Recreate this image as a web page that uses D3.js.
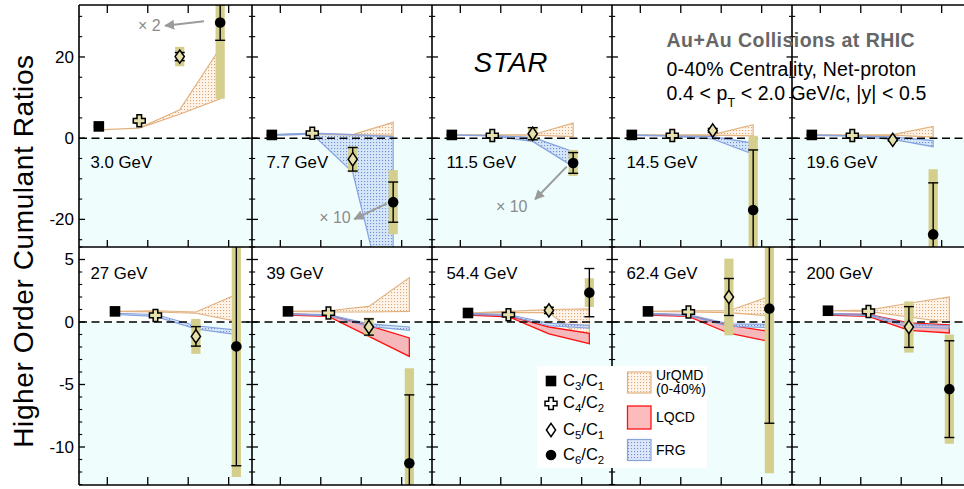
<!DOCTYPE html>
<html>
<head>
<meta charset="utf-8">
<script src="https://cdn.jsdelivr.net/npm/d3@7"></script>
<style>
  html, body { margin: 0; padding: 0; background: #fff; }
  svg { display: block; font-family: "Liberation Sans", Arial, Helvetica, sans-serif; }
</style>
</head>
<body>
<svg id="chart" width="964" height="489"></svg>
<script>
// ---- data: one panel per collision energy ----
const energyLabels = ["3.0 GeV", "7.7 GeV", "11.5 GeV", "14.5 GeV", "19.6 GeV",
                      "27 GeV", "39 GeV", "54.4 GeV", "62.4 GeV", "200 GeV"];

// measured net-proton cumulant ratios (C6/C2 at 3.0 GeV shown x2, at 7.7 and 11.5 GeV shown x10)
const c31     = [2.9, 0.8, 0.8, 0.8, 0.8, 0.85, 0.85, 0.72, 0.85, 0.9];
const c31Stat = [0.2, 0.1, 0.1, 0.1, 0.1, 0.05, 0.05, 0.05, 0.05, 0.05];
const c31Sys  = [0.3, 0.2, 0.2, 0.2, 0.2, 0.08, 0.08, 0.08, 0.08, 0.08];

const c42     = [4.3, 1.2, 0.65, 0.65, 0.65, 0.53, 0.72, 0.58, 0.8, 0.85];
const c42Stat = [0.5, 0.3, 0.2, 0.2, 0.2, 0.1, 0.1, 0.1, 0.1, 0.1];
const c42Sys  = [0.9, 0.4, 0.3, 0.3, 0.3, 0.15, 0.15, 0.15, 0.15, 0.15];

const c51     = [20.1, -5.2, 1.1, 1.9, -0.4, -1.15, -0.4, 0.93, 2.0, -0.4];
const c51Stat = [1.0, 2.9, 1.5, 0.5, 0.3, 0.78, 0.65, 0.25, 1.48, 1.63];
const c51Sys  = [2.4, 3.2, 1.6, 0.6, 0.4, 1.4, 0.75, 0.35, 3.07, 2.05];

const c62     = [28.5, -15.75, -6.1, -17.7, -23.7, -1.95, -11.3, 2.35, 1.07, -5.37];
const c62Stat = [4.4, 4.95, 2.55, 14.8, 12.7, 9.55, 5.47, 1.93, 9.17, 3.87];
const c62Sys  = [18.8, 7.9, 3.2, 18.3, 16.05, 10.45, 7.6, 1.15, 13.17, 4.37];

// model bands: lower / upper edge at C3/C1, C4/C2, C5/C1, C6/C2
const urqmdHi = [
  [2.05, 2.5, 7.0, 22.2], [0.85, 1.2, 0.9, 3.9], [0.85, 0.85, 0.85, 3.7],
  [0.85, 0.85, 0.9, 3.3], [0.85, 0.85, 0.9, 2.9], [0.85, 0.9, 0.8, 2.2],
  [0.85, 0.9, 1.25, 3.55], [0.72, 0.85, 1.0, 1.05], [0.85, 0.9, 0.9, 2.05],
  [0.9, 0.95, 1.5, 2.0]];
const urqmdLo = [
  [2.05, 2.5, 5.9, 9.7], [0.75, 1.0, 0.75, 0.75], [0.75, 0.7, 0.75, 0.4],
  [0.75, 0.7, 0.75, 0.55], [0.75, 0.7, 0.75, 0.25], [0.85, 0.8, 0.7, 0.05],
  [0.85, 0.8, 0.8, 0.85], [0.72, 0.75, 0.75, -1.75], [0.85, 0.8, 0.75, 0.5],
  [0.9, 0.85, 0.4, -0.05]];

const lqcdHi = [null, null, null, null, null, null,
  [0.65, 0.55, -0.3, -1.28], [0.65, 0.5, -0.4, -0.9],
  [0.65, 0.55, -0.25, -0.75], [0.65, 0.6, -0.08, -0.22]];
const lqcdLo = [null, null, null, null, null, null,
  [0.55, 0.45, -1.15, -2.75], [0.55, 0.42, -0.95, -1.74],
  [0.55, 0.45, -0.9, -1.55], [0.55, 0.45, -0.67, -0.88]];

const frgHi = [null,
  [0.9, 1.25, 0.9, 0.4], [0.8, 0.65, 0.2, -3.3], [0.8, 0.6, 0.4, -1.2],
  [0.8, 0.6, 0.3, -0.6], [0.7, 0.6, -0.3, -0.65], [0.65, 0.6, -0.15, -0.4],
  [0.7, 0.6, -0.1, -0.27], [0.7, 0.6, -0.15, -0.2], [0.7, 0.6, -0.15, -0.3]];
const frgLo = [null,
  [0.7, 1.0, -8.4, -49], [0.75, 0.55, -0.8, -7.0], [0.7, 0.5, -0.2, -3.9],
  [0.7, 0.5, -0.3, -2.1], [0.6, 0.45, -0.55, -1.0], [0.6, 0.5, -0.35, -0.67],
  [0.6, 0.5, -0.3, -0.48], [0.6, 0.5, -0.35, -0.45], [0.6, 0.5, -0.4, -0.5]];

// axis ticks
const topMajor = [-20, 0, 20];
const topMinor = [-25, -15, -10, -5, 5, 10, 15, 25, 30];
const botMajor = [-10, -5, 0, 5];
const botMinor = d3.range(-13, 7).filter(v => v % 5 !== 0);

// scale-factor notes (panel, text, arrow tail, arrow tip, text anchor) in data units
const scaleNotes = [
  { panel: 0, text: "\u00d7 2",  tail: [3.39, 28.8],  tip: [2.43, 27.7],  at: [1.76, 26.4] },
  { panel: 1, text: "\u00d7 10", tail: [3.63, -16.1], tip: [2.83, -19.9], at: [1.96, -20.9] },
  { panel: 2, text: "\u00d7 10", tail: [3.63, -7.0],  tip: [2.85, -15.05], at: [1.88, -18.2] }
];

// ---- layout ----
const colEdges = [79, 252, 432, 612, 792, 972];
const rowEdges = [5, 247, 485];
const rowDomains = [[-26.8, 32.8], [-13.04, 6.0]];
const markerShift = [-0.21, 0.19];
const cyan = "#effdfd", olive = "#d5cf8e";

const svg = d3.select("#chart");
const defs = svg.append("defs");

// dotted fills for the model bands
const pU = defs.append("pattern").attr("id", "dotU").attr("width", 3).attr("height", 3)
  .attr("patternUnits", "userSpaceOnUse");
pU.append("rect").attr("width", 3).attr("height", 3).attr("fill", "#fff4ea");
pU.append("rect").attr("x", 1).attr("y", 1).attr("width", 1.1).attr("height", 1.1).attr("fill", "#dea977");

const pF = defs.append("pattern").attr("id", "dotF").attr("width", 3).attr("height", 3)
  .attr("patternUnits", "userSpaceOnUse");
pF.append("rect").attr("width", 3).attr("height", 3).attr("fill", "rgba(160,185,238,0.35)");
pF.append("rect").attr("x", 1).attr("y", 1).attr("width", 1.1).attr("height", 1.1).attr("fill", "#6f8fd6");

defs.append("marker").attr("id", "arrowHead").attr("viewBox", "0 0 10 10")
  .attr("refX", 9).attr("refY", 5).attr("markerWidth", 5).attr("markerHeight", 5)
  .attr("markerUnits", "strokeWidth").attr("orient", "auto")
  .append("path").attr("d", "M0,0 L10,5 L0,10 Z").attr("fill", "#9b9b9b");

const yScales = rowDomains.map((dom, r) =>
  d3.scaleLinear().domain(dom).range([rowEdges[r + 1], rowEdges[r]]));
const xScales = colEdges.slice(0, 5).map(x0 =>
  d3.scaleLinear().domain([0.3, 4.75]).range([x0, x0 + 180]));

// marker shapes
const crossPath = (a, w) => `M${-w},${-a}H${w}V${-w}H${a}V${w}H${w}V${a}H${-w}V${w}H${-a}V${-w}H${-w}Z`;
const diamondPath = (hw, hh) => `M0,${-hh}L${hw},0L0,${hh}L${-hw},0Z`;
function drawMarker(g, kind, x, y, fill) {
  if (kind === 0) {
    g.append("rect").attr("x", x - 5.3).attr("y", y - 5.3).attr("width", 10.6).attr("height", 10.6)
      .attr("fill", "#000");
  } else if (kind === 1) {
    g.append("path").attr("d", crossPath(6, 2.3)).attr("transform", `translate(${x},${y})`)
      .attr("fill", fill).attr("stroke", "#000").attr("stroke-width", 1.5);
  } else if (kind === 2) {
    g.append("path").attr("d", diamondPath(4.6, 6.6)).attr("transform", `translate(${x},${y})`)
      .attr("fill", fill).attr("stroke", "#000").attr("stroke-width", 1.5);
  } else {
    g.append("circle").attr("cx", x).attr("cy", y).attr("r", 5.3).attr("fill", "#000");
  }
}

// background: light cyan below zero in each row
yScales.forEach((y, r) => {
  svg.append("rect").attr("x", colEdges[0]).attr("y", y(0))
    .attr("width", 964 - colEdges[0]).attr("height", rowEdges[r + 1] - y(0)).attr("fill", cyan);
});

const series = [
  { v: c31, stat: c31Stat, sys: c31Sys },
  { v: c42, stat: c42Stat, sys: c42Sys },
  { v: c51, stat: c51Stat, sys: c51Sys },
  { v: c62, stat: c62Stat, sys: c62Sys }
];

energyLabels.forEach((label, p) => {
  const r = p < 5 ? 0 : 1, c = p % 5;
  const x = xScales[c], y = yScales[r];
  const xs = i => x(i + 1 + markerShift[r]);
  const clipId = "clip" + p;
  defs.append("clipPath").attr("id", clipId).append("rect")
    .attr("x", colEdges[c]).attr("y", rowEdges[r])
    .attr("width", colEdges[c + 1] - colEdges[c]).attr("height", rowEdges[r + 1] - rowEdges[r]);
  const g = svg.append("g").attr("clip-path", `url(#${clipId})`);

  const area = d3.area().x((d, i) => xs(i)).y0(d => y(d[0])).y1(d => y(d[1]));
  const band = (lo, hi, fill, stroke, sw) => {
    if (!lo) return;
    g.append("path").datum(lo.map((v, i) => [v, hi[i]])).attr("d", area)
      .attr("fill", fill).attr("stroke", stroke).attr("stroke-width", sw)
      .attr("stroke-linejoin", "miter");
  };
  band(urqmdLo[p], urqmdHi[p], "url(#dotU)", "#e2b27f", 1.2);
  band(lqcdLo[p], lqcdHi[p], "#f6b9bb", "#ff1010", 1.3);
  band(frgLo[p], frgHi[p], "url(#dotF)", "#86a3df", 1.2);

  // zero line
  g.append("line").attr("x1", colEdges[c]).attr("x2", colEdges[c + 1])
    .attr("y1", y(0)).attr("y2", y(0))
    .attr("stroke", "#000").attr("stroke-width", 1.4).attr("stroke-dasharray", "8,4.5");

  // systematic bands
  series.forEach((s, i) => {
    g.append("rect").attr("x", xs(i) - 4.6).attr("width", 9.2)
      .attr("y", y(s.v[p] + s.sys[p])).attr("height", y(s.v[p] - s.sys[p]) - y(s.v[p] + s.sys[p]))
      .attr("fill", olive);
  });
  // statistical error bars
  series.forEach((s, i) => {
    const cx = xs(i), y1 = y(s.v[p] + s.stat[p]), y2 = y(s.v[p] - s.stat[p]);
    g.append("line").attr("x1", cx).attr("x2", cx).attr("y1", y1).attr("y2", y2)
      .attr("stroke", "#000").attr("stroke-width", 1.4);
    [y1, y2].forEach(yy => g.append("line").attr("x1", cx - 5).attr("x2", cx + 5)
      .attr("y1", yy).attr("y2", yy).attr("stroke", "#000").attr("stroke-width", 1.4));
  });
  // markers
  series.forEach((s, i) => drawMarker(g, i, xs(i), y(s.v[p]), "#e6e0ad"));

  // energy label
  svg.append("text").attr("x", colEdges[c] + (c === 0 ? 11.5 : 14.5))
    .attr("y", r === 0 ? 168 : 279).attr("font-size", 16.8).attr("fill", "#000").text(label);
});

// scale-factor arrows
scaleNotes.forEach(n => {
  const x = xScales[n.panel], y = yScales[0];
  svg.append("line").attr("x1", x(n.tail[0])).attr("y1", y(n.tail[1]))
    .attr("x2", x(n.tip[0])).attr("y2", y(n.tip[1]))
    .attr("stroke", "#9b9b9b").attr("stroke-width", 2).attr("marker-end", "url(#arrowHead)");
  svg.append("text").attr("x", x(n.at[0])).attr("y", y(n.at[1]))
    .attr("font-size", 16).attr("fill", "#8c8c8c").text(n.text);
});

// frames and ticks
const frame = svg.append("g").attr("stroke", "#000").attr("fill", "none");
rowEdges.forEach(yy => frame.append("line").attr("x1", colEdges[0]).attr("x2", 964)
  .attr("y1", yy).attr("y2", yy).attr("stroke-width", 1.6));
colEdges.slice(0, 5).forEach(xx => frame.append("line").attr("x1", xx).attr("x2", xx)
  .attr("y1", rowEdges[0]).attr("y2", rowEdges[2]).attr("stroke-width", 1.6));

xScales.forEach(x => {
  [1, 2, 3, 4].forEach(k => {
    const xx = x(k);
    frame.append("line").attr("x1", xx).attr("x2", xx).attr("y1", rowEdges[0]).attr("y2", rowEdges[0] + 8).attr("stroke-width", 1.3);
    frame.append("line").attr("x1", xx).attr("x2", xx).attr("y1", rowEdges[1]).attr("y2", rowEdges[1] - 7).attr("stroke-width", 1.3);
    frame.append("line").attr("x1", xx).attr("x2", xx).attr("y1", rowEdges[2]).attr("y2", rowEdges[2] - 8).attr("stroke-width", 1.3);
  });
});

[[topMajor, topMinor], [botMajor, botMinor]].forEach(([maj, min], r) => {
  const y = yScales[r];
  colEdges.slice(0, 5).forEach((xx, c) => {
    const left = c === 0 ? 0 : 1;
    maj.forEach(v => frame.append("line").attr("x1", xx - 5.5 * left).attr("x2", xx + 6)
      .attr("y1", y(v)).attr("y2", y(v)).attr("stroke-width", 1.3));
    min.forEach(v => frame.append("line").attr("x1", xx - 3 * left).attr("x2", xx + 3.2)
      .attr("y1", y(v)).attr("y2", y(v)).attr("stroke-width", 1.1));
  });
  maj.forEach(v => svg.append("text").attr("x", 74).attr("y", y(v)).attr("dy", "0.35em")
    .attr("text-anchor", "end").attr("font-size", 17).text(String(v)));
});

// axis title
svg.append("text").attr("transform", "translate(33,251) rotate(-90)")
  .attr("text-anchor", "middle").attr("font-size", 28).attr("letter-spacing", 0.6)
  .text("Higher Order Cumulant Ratios");

// experiment and selection
svg.append("text").attr("x", 511).attr("y", 72).attr("text-anchor", "middle")
  .attr("font-size", 27.5).attr("font-style", "italic").attr("letter-spacing", 0.8).text("STAR");
svg.append("text").attr("x", 666.5).attr("y", 47).attr("font-size", 19.5).attr("font-weight", "bold")
  .attr("letter-spacing", 0.45).attr("fill", "#666").text("Au+Au Collisions at RHIC");
svg.append("text").attr("x", 666.5).attr("y", 75.5).attr("font-size", 19.5)
  .attr("letter-spacing", 0.15).text("0-40% Centrality, Net-proton");
const l3 = svg.append("text").attr("x", 666.5).attr("y", 100).attr("font-size", 19.5)
  .attr("letter-spacing", 0.1);
l3.append("tspan").text("0.4 < p");
l3.append("tspan").attr("dy", 7).attr("font-size", 12.5).text("T");
l3.append("tspan").attr("dy", -7).text(" < 2.0 GeV/c, |y| < 0.5");

// legend
const lg = svg.append("g");
lg.append("rect").attr("x", 537).attr("y", 366).attr("width", 170).attr("height", 102).attr("fill", "#fff");
const legendRatios = [["3", "1"], ["4", "2"], ["5", "1"], ["6", "2"]];
const legendY = [381, 403.5, 430, 455];
legendRatios.forEach(([a, b], i) => {
  drawMarker(lg, i, 551, legendY[i], "#fff");
  const t = lg.append("text").attr("x", 563).attr("y", legendY[i] + 4.5).attr("font-size", 16.5);
  t.append("tspan").text("C");
  t.append("tspan").attr("dy", 4).attr("font-size", 11.5).text(a);
  t.append("tspan").attr("dy", -4).text("/C");
  t.append("tspan").attr("dy", 4).attr("font-size", 11.5).text(b);
});
lg.append("rect").attr("x", 627.5).attr("y", 372).attr("width", 23.5).attr("height", 21)
  .attr("fill", "url(#dotU)").attr("stroke", "#e2b27f").attr("stroke-width", 1.2);
lg.append("rect").attr("x", 627.5).attr("y", 406).attr("width", 23.5).attr("height", 23)
  .attr("fill", "#fcbcbd").attr("stroke", "#ff1010").attr("stroke-width", 1.3);
lg.append("rect").attr("x", 627.5).attr("y", 439.5).attr("width", 23.5).attr("height", 21)
  .attr("fill", "url(#dotF)").attr("stroke", "#86a3df").attr("stroke-width", 1.2);
lg.append("text").attr("x", 656).attr("y", 379.5).attr("font-size", 14).text("UrQMD");
lg.append("text").attr("x", 656).attr("y", 394).attr("font-size", 14).text("(0-40%)");
lg.append("text").attr("x", 656).attr("y", 422).attr("font-size", 14).text("LQCD");
lg.append("text").attr("x", 656).attr("y", 455).attr("font-size", 14).text("FRG");
</script>
</body>
</html>
